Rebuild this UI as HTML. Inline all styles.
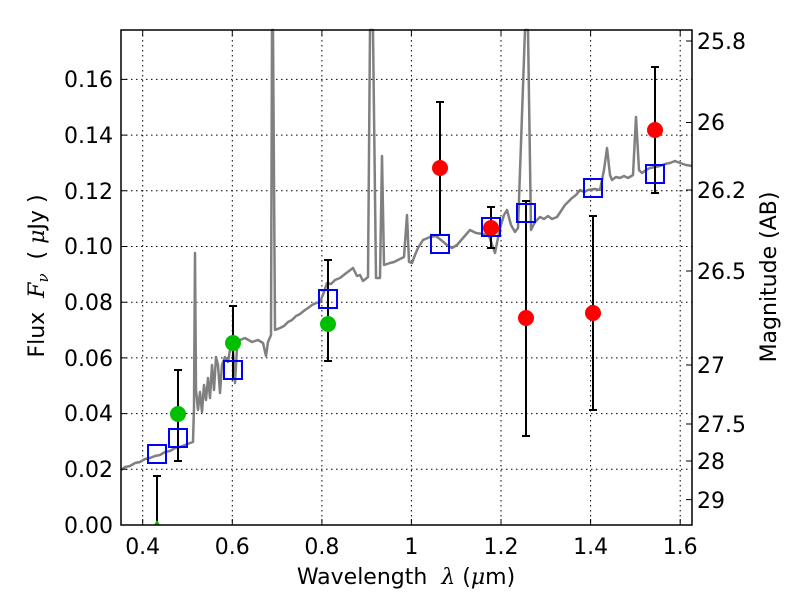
<!DOCTYPE html>
<html><head><meta charset="utf-8"><style>body{margin:0;background:#fff}</style></head><body>
<svg width="800" height="600" xmlns="http://www.w3.org/2000/svg" font-family="DejaVu Sans, Liberation Sans, sans-serif">
<rect width="800" height="600" fill="#fff"/>
<g stroke="#000" stroke-width="1" stroke-dasharray="1.5,3.5">
<line x1="142.7" y1="30" x2="142.7" y2="525"/><line x1="232.3" y1="30" x2="232.3" y2="525"/><line x1="321.9" y1="30" x2="321.9" y2="525"/><line x1="411.4" y1="30" x2="411.4" y2="525"/><line x1="501" y1="30" x2="501" y2="525"/><line x1="590.6" y1="30" x2="590.6" y2="525"/><line x1="680.2" y1="30" x2="680.2" y2="525"/>
<line x1="121" y1="469.3" x2="692" y2="469.3"/><line x1="121" y1="413.6" x2="692" y2="413.6"/><line x1="121" y1="357.9" x2="692" y2="357.9"/><line x1="121" y1="302.2" x2="692" y2="302.2"/><line x1="121" y1="246.5" x2="692" y2="246.5"/><line x1="121" y1="190.8" x2="692" y2="190.8"/><line x1="121" y1="135.1" x2="692" y2="135.1"/><line x1="121" y1="79.4" x2="692" y2="79.4"/>
</g>
<polyline fill="none" stroke="#808080" stroke-width="2.5" stroke-linejoin="round" points="121,470 125,467 130,466 135,463 140,462 145,459 150,458 155,456 160,455 165,452 170,451 175,448 180,447 185,445 190,443 193,442 194,407 195,253 196,390 198,410 200,392 202,412 204,385 206,400 208,378 210,398 212,365 214,390 216,357 218,365 220,393 222,365 225,357 228,362 231,344 233,350 235,383 237,348 240,340 245,338 252,342 258,340 263,343 266,356 268,342 271,335 272,30 273,30 275,330 280,328 284,326 288,322 292,320 296,316 300,314 305,310 308,308 312,305 316,303 320,302 324,292 327,283 331,284 335,280 340,278 345,274 349,271 353,268 357,276 360,275 363,281 368,277 370,30 373,30 376,278 380,278 382,156 384,265 390,263 394,262 398,260 404,257 407,215 409,262 412,263 415,255 418,248 423,240 430,237 436,236 441,240 447,245 452,248 457,245 463,238 470,230 476,233 483,234 489,236 495,253 500,228 504,215 507,210 511,225 515,232 518,228 525,30 528,30 531,230 535,222 540,217 544,219 548,216 552,219 557,217 561,211 565,205 568,202 572,198 576,195 580,190 584,192 588,190 595,189 600,190 604,170 607,148 610,175 612,180 616,177 620,178 624,176 628,178 633,175 636,117 639,170 642,173 646,170 650,168 655,167 660,166 665,164 670,163 675,161 680,163 686,165 692,166"/>
<g stroke="#000" stroke-width="2">
<line x1="157" y1="476" x2="157" y2="525"/><line x1="153" y1="476" x2="161" y2="476"/>
<line x1="178" y1="370" x2="178" y2="461"/><line x1="174" y1="370" x2="182" y2="370"/><line x1="174" y1="461" x2="182" y2="461"/>
<line x1="233" y1="306" x2="233" y2="379"/><line x1="229" y1="306" x2="237" y2="306"/><line x1="229" y1="379" x2="237" y2="379"/>
<line x1="328" y1="260" x2="328" y2="361"/><line x1="324" y1="260" x2="332" y2="260"/><line x1="324" y1="361" x2="332" y2="361"/>
<line x1="440" y1="102" x2="440" y2="235"/><line x1="436" y1="102" x2="444" y2="102"/><line x1="436" y1="235" x2="444" y2="235"/>
<line x1="491" y1="207" x2="491" y2="248"/><line x1="487" y1="207" x2="495" y2="207"/><line x1="487" y1="248" x2="495" y2="248"/>
<line x1="526" y1="201" x2="526" y2="436"/><line x1="522" y1="201" x2="530" y2="201"/><line x1="522" y1="436" x2="530" y2="436"/>
<line x1="593" y1="216" x2="593" y2="410"/><line x1="589" y1="216" x2="597" y2="216"/><line x1="589" y1="410" x2="597" y2="410"/>
<line x1="655" y1="67" x2="655" y2="193"/><line x1="651" y1="67" x2="659" y2="67"/><line x1="651" y1="193" x2="659" y2="193"/>
</g>
<g fill="#00bf00"><path d="M154,525 L157,520 L160,525 Z"/><circle cx="178" cy="414" r="8"/><circle cx="233" cy="343" r="8"/><circle cx="328" cy="324" r="8"/></g>
<g fill="#ff0000"><circle cx="440" cy="168" r="8"/><circle cx="491" cy="228" r="8"/><circle cx="526" cy="318" r="8"/><circle cx="593" cy="313" r="8"/><circle cx="655" cy="130" r="8"/></g>
<g fill="none" stroke="#0000ff" stroke-width="2">
<rect x="148" y="445" width="18" height="18"/><rect x="169" y="429" width="18" height="18"/><rect x="224" y="361" width="18" height="18"/><rect x="319" y="290" width="18" height="18"/><rect x="431" y="235" width="18" height="18"/><rect x="482" y="218" width="18" height="18"/><rect x="517" y="204" width="18" height="18"/><rect x="584" y="179" width="18" height="18"/><rect x="646" y="165" width="18" height="18"/>
</g>
<rect x="0" y="526" width="800" height="74" fill="#fff"/>
<rect x="121" y="30" width="571" height="495" fill="none" stroke="#000" stroke-width="1.5"/>
<g stroke="#000" stroke-width="1">
<path d="M142.7,525v-6M232.3,525v-6M321.9,525v-6M411.4,525v-6M501,525v-6M590.6,525v-6M680.2,525v-6M142.7,30v6M232.3,30v6M321.9,30v6M411.4,30v6M501,30v6M590.6,30v6M680.2,30v6"/>
<path d="M121,469.3h6M121,413.6h6M121,357.9h6M121,302.2h6M121,246.5h6M121,190.8h6M121,135.1h6M121,79.4h6"/>
<path d="M692,41h-6M692,122.5h-6M692,190h-6M692,271h-6M692,365h-6M692,424h-6M692,461h-6M692,499.6h-6"/>
</g>
<g font-size="22" text-anchor="middle" fill="#000">
<text x="142.7" y="554">0.4</text><text x="232.3" y="554">0.6</text><text x="321.9" y="554">0.8</text><text x="411.4" y="554">1</text><text x="501" y="554">1.2</text><text x="590.6" y="554">1.4</text><text x="680.2" y="554">1.6</text>
</g>
<g font-size="22" text-anchor="end" fill="#000">
<text x="113" y="533">0.00</text><text x="113" y="477">0.02</text><text x="113" y="421">0.04</text><text x="113" y="366">0.06</text><text x="113" y="310">0.08</text><text x="113" y="254">0.10</text><text x="113" y="199">0.12</text><text x="113" y="143">0.14</text><text x="113" y="87">0.16</text>
</g>
<g font-size="22" fill="#000">
<text x="697" y="49">25.8</text><text x="697" y="130">26</text><text x="697" y="198">26.2</text><text x="697" y="279">26.5</text><text x="697" y="373">27</text><text x="697" y="432">27.5</text><text x="697" y="469">28</text><text x="697" y="508">29</text>
</g>
<text x="406" y="584" font-size="22" text-anchor="middle" xml:space="preserve">Wavelength  <tspan font-style="italic" font-family="DejaVu Serif, serif">λ</tspan> (<tspan font-style="italic" font-family="DejaVu Serif, serif">μ</tspan>m)</text>
<text transform="translate(44,276) rotate(-90)" font-size="22" text-anchor="middle" xml:space="preserve">Flux  <tspan font-style="italic" font-family="DejaVu Serif, serif">F</tspan><tspan font-style="italic" font-size="15" dy="4" font-family="DejaVu Serif, serif">ν</tspan><tspan dy="-4">  ( </tspan><tspan font-style="italic" font-family="DejaVu Serif, serif">μ</tspan>Jy )</text>
<text transform="translate(776,277) rotate(-90)" font-size="22" text-anchor="middle">Magnitude (AB)</text>
</svg>
</body></html>
